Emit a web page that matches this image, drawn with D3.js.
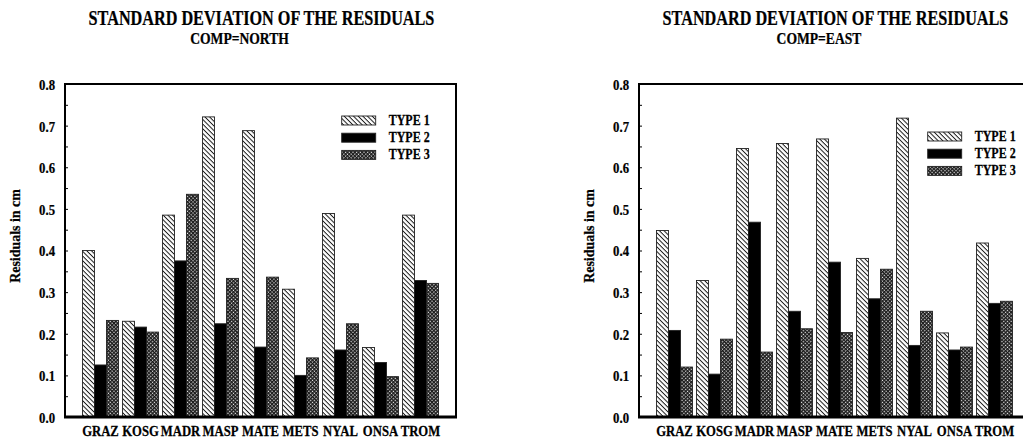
<!DOCTYPE html>
<html>
<head>
<meta charset="utf-8">
<script src="https://cdn.jsdelivr.net/npm/d3@7/dist/d3.min.js"></script>
<style>
  body { margin: 0; background: #fff; }
  text { font-family: "Liberation Serif", "Times New Roman", serif; font-weight: bold; fill: #000; stroke: #000; stroke-width: 0.25; }
</style>
</head>
<body>
<svg id="chart" width="1023" height="441"></svg>
<script>
// data
var stations = ["GRAZ", "KOSG", "MADR", "MASP", "MATE", "METS", "NYAL", "ONSA", "TROM"];
var typeNames = ["TYPE 1", "TYPE 2", "TYPE 3"];

var northType1 = [0.400, 0.230, 0.485, 0.721, 0.688, 0.307, 0.489, 0.167, 0.485];
var northType2 = [0.125, 0.216, 0.375, 0.224, 0.168, 0.100, 0.161, 0.131, 0.328];
var northType3 = [0.232, 0.204, 0.535, 0.333, 0.336, 0.142, 0.224, 0.097, 0.321];

var eastType1 = [0.448, 0.328, 0.645, 0.657, 0.668, 0.381, 0.718, 0.202, 0.418];
var eastType2 = [0.208, 0.103, 0.468, 0.254, 0.372, 0.284, 0.172, 0.161, 0.273];
var eastType3 = [0.120, 0.187, 0.156, 0.212, 0.203, 0.355, 0.254, 0.168, 0.278];

var yTickValues = [0, 0.1, 0.2, 0.3, 0.4, 0.5, 0.6, 0.7, 0.8];
var yMinorTicks = [0.05, 0.15, 0.25, 0.35, 0.45, 0.55, 0.65, 0.75];

var svg = d3.select("#chart");

// narrow the glyphs horizontally, the original uses a condensed times
function squeeze(sel, k) {
  sel.each(function () {
    var t = d3.select(this);
    var x = +t.attr("x") || 0, y = +t.attr("y") || 0;
    var prev = t.attr("transform") || "";
    t.attr("transform", prev + " translate(" + x + "," + y + ") scale(" + k + ",1) translate(" + (-x) + "," + (-y) + ")");
  });
}

// patterns ---------------------------------------------------------------
var defs = svg.append("defs");

var hatch = defs.append("pattern")
    .attr("id", "hatch")
    .attr("patternUnits", "userSpaceOnUse")
    .attr("width", 8)
    .attr("height", 3.3)
    .attr("patternTransform", "rotate(45)");
hatch.append("rect").attr("width", 8).attr("height", 3.3).attr("fill", "#fff");
hatch.append("line")
    .attr("x1", 0).attr("x2", 8).attr("y1", 0.5).attr("y2", 0.5)
    .attr("stroke", "#000").attr("stroke-width", 0.9);

var dots = defs.append("pattern")
    .attr("id", "dots")
    .attr("patternUnits", "userSpaceOnUse")
    .attr("width", 2.6)
    .attr("height", 2.6)
    .attr("patternTransform", "rotate(45)");
dots.append("rect").attr("width", 2.6).attr("height", 2.6).attr("fill", "#1a1a1a");
dots.append("rect").attr("x", 0.5).attr("y", 0.5).attr("width", 1.2).attr("height", 1.2).attr("fill", "#fff");

var fills = ["url(#hatch)", "#000", "url(#dots)"];

// charts -------------------------------------------------------------------
var charts = [
  { left: 65, comp: "COMP=NORTH", compX: 239.5, series: [northType1, northType2, northType3], legendX: 341.7, legendY: 120.5 },
  { left: 639, comp: "COMP=EAST", compX: 819, series: [eastType1, eastType2, eastType3], legendX: 927.7, legendY: 136.5 }
];

var plotTop = 84, plotBottom = 417, plotWidth = 391;

charts.forEach(function (c) {
  var g = svg.append("g");

  var x = d3.scaleBand()
      .domain(stations)
      .range([c.left, c.left + plotWidth])
      .paddingInner(0.1)
      .paddingOuter(0.4375);

  var xs = d3.scaleBand()
      .domain([0, 1, 2])
      .range([0, x.bandwidth()]);

  var y = d3.scaleLinear()
      .domain([0, 0.8])
      .range([plotBottom, plotTop]);

  // bars
  c.series.forEach(function (vals, k) {
    g.append("g").selectAll("rect")
      .data(vals)
      .enter()
      .append("rect")
      .attr("x", function (d, i) { return x(stations[i]) + xs(k); })
      .attr("y", function (d) { return y(d); })
      .attr("width", xs.bandwidth())
      .attr("height", function (d) { return y(0) - y(d); })
      .attr("fill", fills[k])
      .attr("stroke", "#222")
      .attr("stroke-width", 0.9);
  });

  // frame
  g.append("rect")
      .attr("x", c.left)
      .attr("y", plotTop)
      .attr("width", plotWidth)
      .attr("height", plotBottom - plotTop)
      .attr("fill", "none")
      .attr("stroke", "#000")
      .attr("stroke-width", 2);

  g.append("line")
      .attr("x1", c.left - 1).attr("x2", c.left + plotWidth + 1)
      .attr("y1", plotBottom).attr("y2", plotBottom)
      .attr("stroke", "#000").attr("stroke-width", 2.8);

  // y axis
  var yAxis = g.append("g")
      .attr("transform", "translate(" + c.left + ",0)")
      .call(d3.axisLeft(y)
        .tickValues(yTickValues)
        .tickFormat(d3.format(".1f"))
        .tickSizeInner(-3)
        .tickSizeOuter(0)
        .tickPadding(10));
  yAxis.select(".domain").remove();
  yAxis.selectAll("line").attr("stroke", "#000").attr("stroke-width", 1);
  yAxis.selectAll("text")
      .attr("font-size", 15)
      .attr("font-family", "Liberation Serif")
      .attr("font-weight", "bold")
      .attr("fill", "#000")
      .attr("dy", "0.36em");
  squeeze(yAxis.selectAll("text"), 0.85);

  var yMinor = g.append("g")
      .attr("transform", "translate(" + c.left + ",0)")
      .call(d3.axisLeft(y)
        .tickValues(yMinorTicks)
        .tickFormat("")
        .tickSizeInner(-3)
        .tickSizeOuter(0));
  yMinor.select(".domain").remove();
  yMinor.selectAll("line").attr("stroke", "#000").attr("stroke-width", 1);

  // x labels
  var xLabels = g.append("g").selectAll("text")
      .data(stations)
      .enter()
      .append("text")
      .attr("x", function (d) { return x(d) + x.bandwidth() / 2; })
      .attr("y", 436.5)
      .attr("text-anchor", "middle")
      .attr("font-size", 15.5)
      .text(function (d) { return d; });
  squeeze(xLabels, 0.82);

  // y title
  var yTitle = g.append("text")
      .attr("transform", "translate(" + (c.left - 45) + ",236) rotate(-90)")
      .attr("text-anchor", "middle")
      .attr("font-size", 15)
      .text("Residuals in cm");
  squeeze(yTitle, 0.93);

  // titles
  var title = g.append("text")
      .attr("x", c.left + 196.5)
      .attr("y", 25)
      .attr("text-anchor", "middle")
      .attr("font-size", 20)
      .text("STANDARD DEVIATION OF THE RESIDUALS");
  squeeze(title, 0.81);

  var comp = g.append("text")
      .attr("x", c.compX)
      .attr("y", 44.3)
      .attr("text-anchor", "middle")
      .attr("font-size", 16.5)
      .text(c.comp);
  squeeze(comp, 0.825);

  // legend
  var legend = g.append("g");
  legend.selectAll("rect")
      .data(typeNames)
      .enter()
      .append("rect")
      .attr("x", c.legendX)
      .attr("y", function (d, i) { return c.legendY + i * 17.2 - 4.5; })
      .attr("width", 34)
      .attr("height", 9)
      .attr("fill", function (d, i) { return fills[i]; })
      .attr("stroke", "#222")
      .attr("stroke-width", 0.9);

  var legendText = legend.selectAll("text")
      .data(typeNames)
      .enter()
      .append("text")
      .attr("x", c.legendX + 47)
      .attr("y", function (d, i) { return c.legendY + i * 17.2 + 4.5; })
      .attr("font-size", 15)
      .text(function (d) { return d; });
  squeeze(legendText, 0.8);
});
</script>
</body>
</html>
